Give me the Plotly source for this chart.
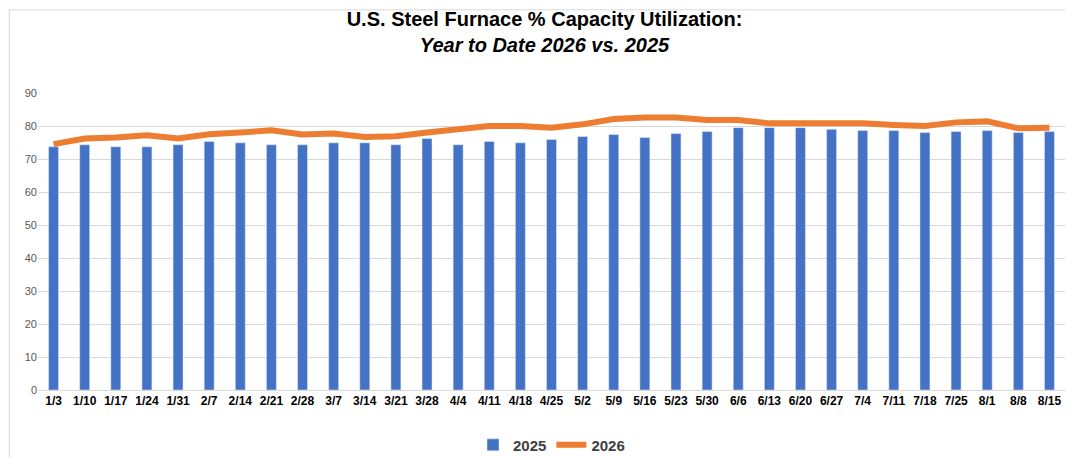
import plotly.graph_objects as go

weeks = ["1/3", "1/10", "1/17", "1/24", "1/31", "2/7", "2/14", "2/21", "2/28", "3/7", "3/14",
         "3/21", "3/28", "4/4", "4/11", "4/18", "4/25", "5/2", "5/9", "5/16", "5/23", "5/30",
         "6/6", "6/13", "6/20", "6/27", "7/4", "7/11", "7/18", "7/25", "8/1", "8/8", "8/15"]
util_2025 = [73.7, 74.3, 73.7, 73.7, 74.3, 75.3, 74.9, 74.3, 74.3, 74.9, 74.9,
             74.3, 76.2, 74.3, 75.3, 74.9, 75.9, 76.8, 77.4, 76.5, 77.7, 78.3,
             79.5, 79.5, 79.5, 79.0, 78.6, 78.6, 78.0, 78.3, 78.6, 78.0, 78.3]
util_2026 = [74.5, 76.2, 76.5, 77.2, 76.2, 77.5, 78.0, 78.7, 77.4, 77.7, 76.7,
             76.9, 78.0, 79.2, 80.0, 80.0, 79.5, 80.5, 82.1, 82.6, 82.6, 81.8,
             81.8, 80.8, 80.8, 80.5, 80.8, 80.3, 80.0, 81.1, 81.4, 79.3, 79.5]

fig = go.Figure()
fig.add_trace(go.Bar(x=weeks, y=util_2025, name="<b>2025</b>", marker_color="#4472C4", width=0.32))
fig.add_trace(go.Scatter(x=weeks, y=util_2026, name="<b>2026</b>", mode="lines",
                         line=dict(color="#ED7D31", width=6)))

fig.update_layout(
    width=1073, height=457,
    paper_bgcolor="white", plot_bgcolor="white",
    font=dict(family="Liberation Sans, Arial", color="#404040"),
    title=dict(text="<b>U.S. Steel Furnace % Capacity Utilization:</b><br><b><i>Year to Date 2026 vs. 2025</i></b>",
               x=0.5, xanchor="center", y=0.96, yanchor="top",
               font=dict(size=20, color="black")),
    margin=dict(l=30, r=16, t=85, b=75, autoexpand=False),
    showlegend=True,
    legend=dict(orientation="h", x=0.5, xanchor="center", y=-0.13, yanchor="top",
                font=dict(size=15, color="#404040"), traceorder="normal"),
    shapes=[dict(type="rect", xref="paper", yref="paper", x0=-0.028, x1=1.014, y0=-0.25, y1=1.28,
                 line=dict(color="#D9D9D9", width=1))],
)
fig.update_xaxes(tickfont=dict(size=12, color="black", family="Liberation Sans, Arial"),
                 showline=True, linecolor="#D9D9D9", ticks="", tickprefix="<b>", ticksuffix="</b>",
                 automargin=False)
fig.update_yaxes(range=[0, 90], dtick=10, gridcolor="#D9D9D9", tickfont=dict(size=11, color="#595959"),
                 zeroline=False, showline=False, automargin=False)

fig.write_html("out.html")
